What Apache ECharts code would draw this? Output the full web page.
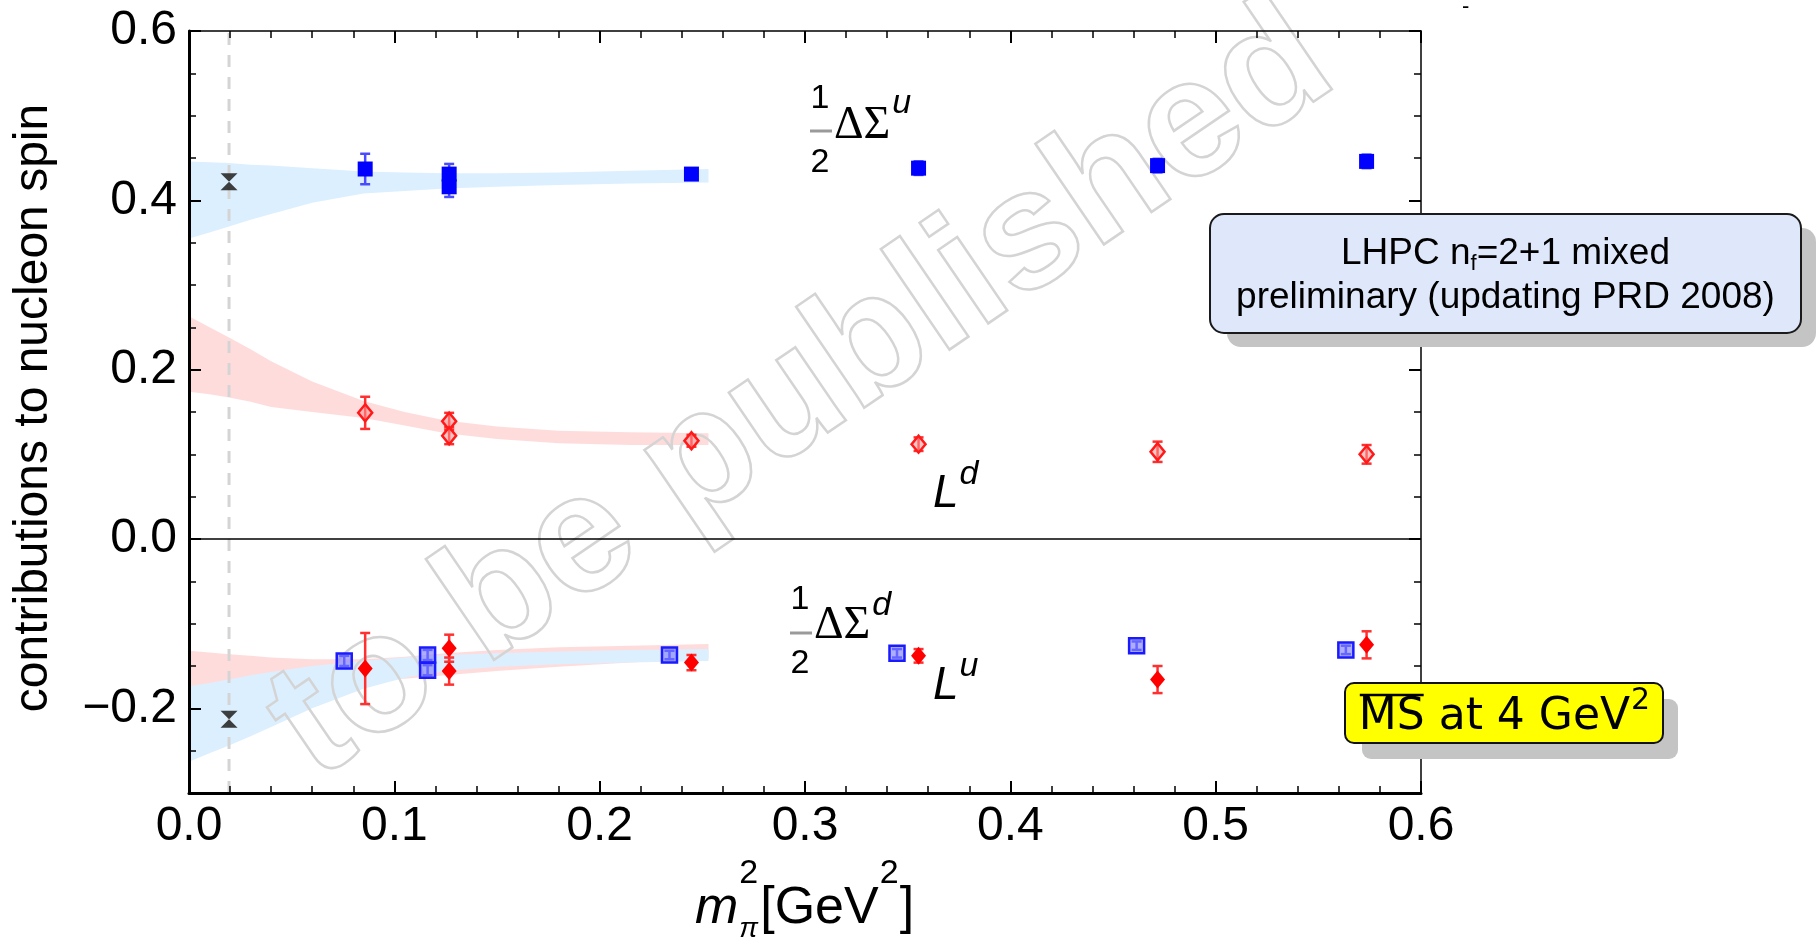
<!DOCTYPE html>
<html><head><meta charset="utf-8">
<script src="https://cdn.jsdelivr.net/npm/echarts@6/dist/echarts.min.js"></script>
<style>html,body{margin:0;padding:0;background:#fff}#c{width:1816px;height:945px}</style>
</head><body><div id="c"></div>
<script>
// ---------------- data ----------------
const xRange = [0, 0.6];
const yRange = [-0.3, 0.6];
const xTickStep = 0.1;
const yMinorStep = 0.05;
const yMajorTicks = [-0.2, 0, 0.2, 0.4, 0.6];

const physMpi2 = 0.0195;                 // physical pion mass squared (dashed line)
const physValues = [0.422, -0.213];      // extrapolated values at the physical point

const mpi2 = [0.0858, 0.1267, 0.1267, 0.2447, 0.3553, 0.4717, 0.5735];
const mpi2Shifted = [0.0756, 0.1162, 0.1162, 0.2340, 0.3448, 0.4615, 0.5634];

const halfDSigmaU    = [0.437, 0.431, 0.416, 0.431, 0.438, 0.441, 0.446];
const halfDSigmaUErr = [0.018, 0.012, 0.012, 0.006, 0.008, 0.008, 0.008];
const Ld             = [0.149, 0.139, 0.122, 0.116, 0.112, 0.103, 0.100];
const LdErr          = [0.019, 0.010, 0.010, 0.007, 0.008, 0.012, 0.011];
const halfDSigmaD    = [-0.144, -0.137, -0.155, -0.137, -0.135, -0.126, -0.131];
const halfDSigmaDErr = [0.006, 0.006, 0.006, 0.005, 0.005, 0.005, 0.005];
const Lu             = [-0.153, -0.129, -0.156, -0.146, -0.138, -0.166, -0.125];
const LuErr          = [0.042, 0.016, 0.016, 0.009, 0.008, 0.016, 0.016];

// chiral-fit error bands
const bandX         = [0, 0.01, 0.0195, 0.03, 0.04, 0.06, 0.085, 0.105, 0.125, 0.15, 0.18, 0.215, 0.253];
const bandSigUTop   = [0.446, 0.445, 0.444, 0.442, 0.441, 0.438, 0.434, 0.433, 0.432, 0.432, 0.433, 0.435, 0.437];
const bandSigUBot   = [0.355, 0.362, 0.369, 0.377, 0.384, 0.397, 0.408, 0.411, 0.414, 0.416, 0.418, 0.420, 0.421];
const bandLdTop     = [0.263, 0.250, 0.238, 0.224, 0.210, 0.186, 0.163, 0.150, 0.140, 0.133, 0.128, 0.126, 0.125];
const bandLdBot     = [0.174, 0.171, 0.167, 0.162, 0.156, 0.150, 0.143, 0.134, 0.125, 0.118, 0.113, 0.111, 0.111];
const bandSigDTop   = [-0.174, -0.170, -0.166, -0.161, -0.157, -0.150, -0.144, -0.140, -0.137, -0.135, -0.133, -0.131, -0.130];
const bandSigDBot   = [-0.263, -0.253, -0.244, -0.233, -0.222, -0.200, -0.177, -0.164, -0.156, -0.151, -0.148, -0.146, -0.144];
const bandLuTop     = [-0.132, -0.134, -0.136, -0.138, -0.140, -0.142, -0.142, -0.139, -0.135, -0.131, -0.128, -0.126, -0.124];
const bandLuBot     = [-0.176, -0.175, -0.174, -0.173, -0.172, -0.170, -0.168, -0.165, -0.161, -0.156, -0.151, -0.146, -0.141];

// ---------------- helpers ----------------
const SANS = '"Liberation Sans", Arial, sans-serif';
const SERIF = '"Liberation Serif", "Times New Roman", serif';
const DJV = '"DejaVu Sans", Verdana, sans-serif';
const mctx = document.createElement('canvas').getContext('2d');
function tw(text, font) { mctx.font = font; return mctx.measureText(text).width; }

function bandSeries(top, bot, color) {
  return {
    type: 'custom', coordinateSystem: 'cartesian2d', z: 1, silent: true,
    data: [[bandX[0], top[0]]],
    renderItem: function (params, api) {
      const pts = [];
      for (let i = 0; i < bandX.length; i++) pts.push(api.coord([bandX[i], top[i]]));
      for (let i = bandX.length - 1; i >= 0; i--) pts.push(api.coord([bandX[i], bot[i]]));
      return { type: 'polygon', shape: { points: pts }, style: { fill: color, stroke: null } };
    }
  };
}
function errSeries(xs, ys, es, color) {
  return {
    type: 'custom', coordinateSystem: 'cartesian2d', z: 4, silent: true,
    data: xs.map((x, i) => [x, ys[i], es[i]]),
    renderItem: function (params, api) {
      const x = api.value(0), y = api.value(1), e = api.value(2);
      const t = api.coord([x, y + e]), b = api.coord([x, y - e]);
      const hw = 5, st = { stroke: color, lineWidth: 2.5 };
      return { type: 'group', children: [
        { type: 'line', shape: { x1: t[0], y1: t[1], x2: b[0], y2: b[1] }, style: st },
        { type: 'line', shape: { x1: t[0] - hw, y1: t[1], x2: t[0] + hw, y2: t[1] }, style: st },
        { type: 'line', shape: { x1: b[0] - hw, y1: b[1], x2: b[0] + hw, y2: b[1] }, style: st }
      ] };
    }
  };
}
function pts(xs, ys) { return xs.map((x, i) => [x, ys[i]]); }

function txt(text, x, y, font, align, extra) {
  return Object.assign({ type: 'text', x: x, y: y, z: 30,
    style: { text: text, font: font, fill: '#000', align: align || 'left', verticalAlign: 'middle',
             textAlign: align || 'left', textVerticalAlign: 'middle' } }, extra || {});
}
function line(x1, y1, x2, y2, color, w) {
  return { type: 'line', z: 30, shape: { x1, y1, x2, y2 }, style: { stroke: color, lineWidth: w } };
}

// ---------------- graphic annotations ----------------
const g = [];
// watermark
g.push({ type: 'text', x: 802, y: 394, rotation: 0.598, z: 2, silent: true,
  style: { text: 'to be published', font: 'bold 168px ' + SANS, fill: 'rgba(0,0,0,0)', stroke: '#d4d4d4', lineWidth: 2.5,
           align: 'center', verticalAlign: 'middle', textAlign: 'center', textVerticalAlign: 'middle' } });

// y axis title
g.push(txt('contributions to nucleon spin', 34, 408, '48px ' + SANS, 'center', { rotation: Math.PI / 2 }));

// x axis title  m_pi^2 [GeV^2]
(function () {
  const fBig = '52px ' + SANS, fBigI = 'italic 52px ' + SANS, fSup = '34px ' + SANS, fSub = 'italic 28px ' + SANS;
  let x = 695;
  g.push(txt('m', x, 909, fBigI));
  x += tw('m', fBigI) + 1;
  g.push(txt('2', x, 874, fSup));
  g.push(txt('π', x, 929, fSub));
  x += Math.max(tw('2', fSup), tw('π', fSub)) + 2;
  g.push(txt('[GeV', x, 909, fBig));
  x += tw('[GeV', fBig) + 1;
  g.push(txt('2', x, 874, fSup));
  x += tw('2', fSup) + 1;
  g.push(txt(']', x, 909, fBig));
})();

// 1/2 ΔΣ^u and 1/2 ΔΣ^d labels
function halfDelta(cx, yOne, yTwo, barY, dsLeft, dsMid, supText, supMid) {
  const fFrac = '34px ' + SANS, fDS = '46px ' + SERIF, fSupI = 'italic 34px ' + SANS;
  g.push(txt('1', cx, yOne, fFrac, 'center'));
  g.push(txt('2', cx, yTwo, fFrac, 'center'));
  g.push(line(cx - 10, barY, cx + 12, barY, '#9a9a9a', 3));
  g.push(txt('ΔΣ', dsLeft, dsMid, fDS));
  g.push(txt(supText, dsLeft + tw('ΔΣ', fDS) + 2, supMid, fSupI));
}
halfDelta(820, 98.4, 162.4, 131, 834, 126, 'u', 103.4);
halfDelta(800, 599.4, 663.4, 633, 814, 626, 'd', 605.4);

// L^d and L^u
(function () {
  const fL = 'italic 46px ' + SANS, fS = 'italic 34px ' + SANS;
  const wL = tw('L', fL);
  g.push(txt('L', 933, 494.4, fL));
  g.push(txt('d', 933 + wL + 1, 474.4, fS));
  g.push(txt('L', 933, 686.4, fL));
  g.push(txt('u', 933 + wL + 1, 666.4, fS));
})();

// LHPC info box
g.push({ type: 'rect', z: 25, shape: { x: 1227, y: 228, width: 589, height: 119, r: 14 }, style: { fill: '#c4c4c4', stroke: null } });
g.push({ type: 'rect', z: 26, shape: { x: 1210, y: 214, width: 591, height: 119, r: 14 }, style: { fill: '#dfe8fb', stroke: '#1a1a1a', lineWidth: 2 } });
(function () {
  const f = '37px ' + SANS, fs = '22px ' + SANS;
  const a = 'LHPC n', b = 'f', c = '=2+1 mixed';
  const total = tw(a, f) + tw(b, fs) + tw(c, f);
  let x = 1505.5 - total / 2;
  g.push(txt(a, x, 253.4, f)); x += tw(a, f);
  g.push(txt(b, x, 264, fs)); x += tw(b, fs);
  g.push(txt(c, x, 253.4, f));
  g.push(txt('preliminary (updating PRD 2008)', 1505.5, 297.4, f, 'center'));
})();

// MS-bar box
g.push({ type: 'rect', z: 25, shape: { x: 1362, y: 699, width: 316, height: 60, r: 9 }, style: { fill: '#c4c4c4', stroke: null } });
g.push({ type: 'rect', z: 26, shape: { x: 1345, y: 683, width: 318, height: 60, r: 9 }, style: { fill: '#ffff00', stroke: '#111', lineWidth: 2 } });
(function () {
  const f = '44px ' + DJV, fs = '30px ' + DJV;
  const s = 'MS at 4 GeV';
  const w = tw(s, f);
  const x0 = 1504 - (w + tw('2', fs)) / 2;
  g.push(txt(s, x0, 718, f));
  g.push(txt('2', x0 + w + 1, 701, fs));
  g.push(line(x0 + 1, 695, x0 + tw('MS', f) - 1, 695, '#000', 2.5));
})();

// small stray mark at top right of the original
g.push(txt('-', 1462, 7, '22px ' + SANS));

// ---------------- axes ----------------
const tickFont = { fontFamily: SANS, fontSize: 48, color: '#000' };
function yFmt(v) {
  if (!yMajorTicks.some(t => Math.abs(t - v) < 1e-6)) return '';
  if (Math.abs(v) < 1e-9) return '0.0';
  return (v < 0 ? '\u2212' : '') + Math.abs(v).toFixed(1);
}
function yAxisDef(pos, major, mainLineW) {
  const a = {
    type: 'value', min: yRange[0], max: yRange[1], interval: yMinorStep, position: pos, z: 10,
    splitLine: { show: false },
    axisLine: { show: !major, onZero: false, lineStyle: { color: '#000', width: mainLineW } },
    axisTick: { show: true, inside: true, length: major ? 12 : 7, lineStyle: { color: '#000', width: major ? 2 : 1.5 } },
    axisLabel: { show: false }
  };
  if (major) a.axisTick.customValues = yMajorTicks;
  if (pos === 'left' && !major) {
    a.axisLabel = Object.assign({ show: true, margin: 12, formatter: yFmt, customValues: yMajorTicks }, tickFont);
  }
  return a;
}
function xAxisDef(pos, lineW) {
  return {
    type: 'value', min: xRange[0], max: xRange[1], interval: xTickStep, position: pos, z: 10,
    splitLine: { show: false }, minorSplitLine: { show: false },
    axisLine: { show: true, onZero: false, lineStyle: { color: '#000', width: lineW } },
    axisTick: { show: true, inside: true, length: 12, lineStyle: { color: '#000', width: 2 } },
    minorTick: { show: true, splitNumber: 5, length: 7, lineStyle: { color: '#000', width: 1.5 } },
    axisLabel: pos === 'bottom' ? Object.assign({ show: true, margin: 10, formatter: v => v.toFixed(1) }, tickFont) : { show: false }
  };
}

const option = {
  animation: false,
  backgroundColor: '#fff',
  grid: { left: 189, right: 395, top: 31, bottom: 152, containLabel: false },
  xAxis: [xAxisDef('bottom', 3), xAxisDef('top', 1.5)],
  yAxis: [yAxisDef('left', false, 3), yAxisDef('left', true, 3), yAxisDef('right', false, 1.5), yAxisDef('right', true, 1.5)],
  graphic: { elements: g },
  series: [
    bandSeries(bandLdTop, bandLdBot, '#ffdcdc'),
    bandSeries(bandSigUTop, bandSigUBot, '#dcefff'),
    bandSeries(bandLuTop, bandLuBot, '#ffdcdc'),
    bandSeries(bandSigDTop, bandSigDBot, '#dcefff'),
    { type: 'line', z: 3, silent: true, symbol: 'none', data: [[physMpi2, yRange[0]], [physMpi2, yRange[1]]],
      lineStyle: { color: '#d4d4d4', width: 3, type: [12, 10] } },
    { type: 'line', z: 3, silent: true, symbol: 'none', data: [[xRange[0], 0], [xRange[1], 0]],
      lineStyle: { color: '#000', width: 1.5 } },
    errSeries(mpi2, halfDSigmaU, halfDSigmaUErr, '#4a4aff'),
    errSeries(mpi2, Ld, LdErr, '#ff3030'),
    errSeries(mpi2Shifted, halfDSigmaD, halfDSigmaDErr, '#4a4aff'),
    errSeries(mpi2, Lu, LuErr, '#ff3030'),
    { type: 'scatter', z: 5, silent: true, symbol: 'rect', symbolSize: 15, data: pts(mpi2, halfDSigmaU),
      itemStyle: { color: '#0000ff', opacity: 1 } },
    { type: 'scatter', z: 5, silent: true, symbol: 'diamond', symbolSize: [14, 17], data: pts(mpi2, Ld),
      itemStyle: { color: 'rgba(255,150,150,0.55)', borderColor: '#ff1a1a', borderWidth: 2.5, opacity: 1 } },
    { type: 'scatter', z: 5, silent: true, symbol: 'rect', symbolSize: 15, data: pts(mpi2Shifted, halfDSigmaD),
      itemStyle: { color: 'rgba(120,120,255,0.6)', borderColor: '#1a1aff', borderWidth: 2.5, opacity: 1 } },
    { type: 'scatter', z: 5, silent: true, symbol: 'diamond', symbolSize: [15, 18], data: pts(mpi2, Lu),
      itemStyle: { color: '#ff0000', opacity: 1 } },
    { type: 'scatter', z: 5, silent: true, symbol: 'path://M0,0L20,0L0,20L20,20Z', symbolSize: [17, 17],
      data: physValues.map(v => [physMpi2, v]), itemStyle: { color: '#2a2a2a', opacity: 0.9 } }
  ]
};
const chart = echarts.init(document.getElementById('c'), null, { renderer: 'canvas' });
chart.setOption(option);
</script></body></html>
